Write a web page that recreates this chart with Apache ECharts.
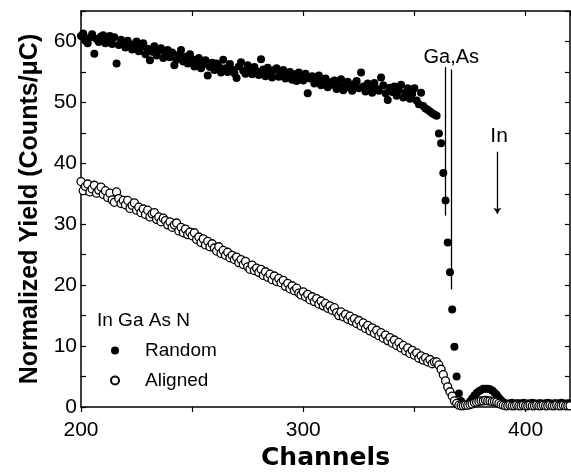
<!DOCTYPE html>
<html><head><meta charset="utf-8">
<script src="https://cdn.jsdelivr.net/npm/echarts@6/dist/echarts.min.js"></script>
<style>html,body{margin:0;padding:0;background:#fff}#c{width:571px;height:476px}</style>
</head><body><div id="c"></div>
<script>
// channel of the first value; each following value is the next channel
const startChannel = 200;

const randomYield = [
  60.9, 61.3, 60.1, 59.7, 60.6, 61.2, 58.0, 60.4, 59.9, 60.8,
  61.0, 59.7, 60.5, 60.9, 59.6, 60.7, 56.4, 59.4, 60.3, 59.8,
  59.0, 60.1, 59.6, 58.7, 59.3, 60.0, 58.4, 59.1, 59.7, 57.9,
  58.8, 56.9, 58.3, 59.2, 57.7, 58.5, 58.9, 57.3, 57.9, 58.6,
  57.4, 58.2, 56.1, 57.0, 57.8, 58.6, 56.7, 57.5, 56.4, 57.9,
  57.1, 55.9, 56.6, 57.3, 55.6, 56.2, 56.9, 54.4, 55.8, 56.5,
  55.3, 56.4, 55.9, 54.9, 57.0, 55.6, 55.0, 56.3, 55.4, 54.8,
  54.0, 55.9, 56.6, 55.2, 54.7, 56.1, 55.5, 54.6, 55.8, 55.1,
  54.5, 57.1, 55.4, 54.3, 55.7, 55.0, 54.1, 55.3, 55.6, 54.2,
  54.8, 55.3, 53.9, 54.4, 55.0, 53.7, 54.6, 53.5, 54.9, 54.1,
  53.6, 54.7, 51.5, 53.9, 54.3, 53.1, 53.7, 54.4, 52.8, 53.4,
  53.9, 52.5, 53.3, 52.9, 53.6, 52.2, 53.0, 53.8, 52.0, 52.7,
  53.4, 52.4, 51.9, 53.0, 53.5, 52.3, 54.9, 52.6, 51.8, 53.1,
  52.7, 51.6, 53.2, 52.2, 51.9, 54.1, 52.8, 51.5, 50.4, 52.4,
  51.7, 52.6, 51.1, 52.0, 52.9, 50.8, 51.6, 52.3, 50.6, 51.4,
  52.3, 50.3, 49.7, 51.6, 49.4, 49.0, 48.8, 48.5, 48.2, 48.0,
  47.8, 44.9, 43.3, 38.4, 33.9, 27.0, 22.1, 16.0, 9.9, 5.0,
  2.2, 1.0, 0.4, 0.3, 0.5, 0.9, 1.4, 1.9, 2.3, 2.6,
  2.8, 3.0, 3.0, 3.0, 2.9, 2.7, 2.4, 2.0, 1.5, 1.1,
  0.8, 0.6, 0.5, 0.6, 0.7, 0.5, 0.6, 0.6, 0.5, 0.7,
  0.6, 0.5, 0.6, 0.7, 0.6, 0.5, 0.6, 0.6, 0.5, 0.6,
  0.7, 0.6, 0.5, 0.6, 0.6, 0.5, 0.7, 0.6, 0.5, 0.6, 0.6
];

const alignedYield = [
  37.0, 35.5, 36.2, 36.6, 35.3, 35.8, 36.4, 35.1, 35.6, 36.1,
  34.9, 35.5, 34.4, 35.1, 34.0, 33.6, 35.3, 34.2, 33.4, 33.9,
  33.2, 33.9, 32.6, 33.1, 33.5, 32.3, 32.8, 31.9, 32.5, 31.6,
  32.3, 31.2, 31.7, 31.9, 30.8, 31.2, 30.4, 31.0, 30.6, 29.9,
  30.4, 29.5, 29.9, 30.2, 28.9, 29.5, 28.6, 29.2, 28.3, 28.7,
  28.1, 28.6, 27.5, 27.9, 27.0, 27.6, 26.6, 27.2, 26.3, 26.8,
  26.1, 25.6, 26.3, 25.2, 25.7, 24.9, 25.4, 24.5, 24.9, 24.2,
  24.6, 23.7, 24.2, 23.4, 23.9, 23.0, 22.6, 23.3, 22.4, 22.8,
  22.1, 22.6, 21.6, 22.2, 21.3, 21.8, 20.9, 21.5, 20.6, 21.1,
  20.4, 20.8, 19.8, 20.3, 19.4, 19.9, 19.1, 19.5, 18.7, 18.4,
  18.9, 18.1, 18.5, 17.6, 18.1, 17.3, 17.8, 16.9, 17.4, 16.6,
  17.0, 16.2, 16.6, 15.9, 16.3, 15.5, 15.0, 15.6, 14.8, 15.2,
  14.4, 14.9, 14.1, 14.5, 13.7, 14.2, 13.3, 13.8, 12.9, 13.4,
  12.5, 13.0, 12.1, 12.6, 11.7, 12.2, 11.3, 11.8, 10.9, 11.4,
  10.5, 11.0, 10.1, 10.6, 9.7, 10.1, 9.2, 9.7, 8.8, 9.3,
  8.5, 8.9, 8.0, 8.4, 7.7, 8.1, 7.4, 7.8, 7.1, 7.4,
  7.4, 6.9, 6.2, 5.3, 4.3, 3.3, 2.5, 1.8, 1.0, 0.6,
  0.3, 0.2, 0.2, 0.3, 0.3, 0.4, 0.5, 0.7, 0.8, 0.9,
  1.0, 1.0, 1.1, 1.0, 1.0, 0.9, 0.9, 0.8, 0.6, 0.4,
  0.3, 0.2, 0.2, 0.3, 0.2, 0.2, 0.3, 0.2, 0.2, 0.3,
  0.2, 0.2, 0.3, 0.2, 0.2, 0.3, 0.2, 0.2, 0.3, 0.2,
  0.2, 0.3, 0.2, 0.2, 0.3, 0.2, 0.2, 0.3, 0.2, 0.2, 0.2
];

const xTickLabels = [200, 300, 400];
const yTickLabels = [0, 10, 20, 30, 40, 50, 60];

// annotation lines: [channel, topYield, bottomYield]
const gaAsLines = [[364.0, 55.8, 31.4], [366.6, 55.4, 19.3]];
const inArrow = [387.3, 41.9, 31.7];
// annotation text anchors: [channel, yield]
const gaAsLabel = [366.6, 57.4];
const inLabel = [388.1, 44.5];

const FONT = 'Liberation Sans, Arial, sans-serif';
const toPairs = vals => vals.map((v, i) => [startChannel + i, v]);

const chart = echarts.init(document.getElementById('c'), null, {renderer: 'canvas'});

const axisLine = {show: true, onZero: false, lineStyle: {color: '#000', width: 1.5}};

chart.setOption({
  animation: false,
  backgroundColor: '#fff',
  grid: {left: 81, right: 1, top: 11, bottom: 65},
  legend: {
    orient: 'vertical', left: 105, top: 336,
    itemWidth: 50, itemHeight: 8, itemGap: 11,
    selectedMode: false,
    textStyle: {fontSize: 19, color: '#000', fontFamily: FONT},
    data: [{name: 'Random', icon: 'circle'}, {name: 'Aligned', icon: 'circle'}]
  },
  graphic: [{
    type: 'text', left: 97, top: 311,
    style: {text: 'In Ga As N', font: '19px ' + FONT, fill: '#000'}
  }],
  xAxis: [{
    type: 'value', position: 'bottom', min: 200, max: 420, interval: 50,
    axisLine: axisLine,
    axisTick: {inside: false, length: 5, lineStyle: {color: '#000', width: 1.2}},
    axisLabel: {
      color: '#000', fontSize: 21, fontFamily: FONT, margin: 13, showMaxLabel: false,
      formatter: v => xTickLabels.includes(v) ? String(v) : ''
    },
    splitLine: {show: false},
    name: 'Channels', nameLocation: 'middle', nameGap: 39,
    nameTextStyle: {fontSize: 25, fontWeight: 'bold', color: '#000', fontFamily: 'DejaVu Sans'}
  }, {
    type: 'value', position: 'top', min: 200, max: 420, interval: 50,
    axisLine: axisLine,
    axisTick: {inside: true, length: 5, lineStyle: {color: '#000', width: 1.2}},
    axisLabel: {show: false}, splitLine: {show: false}
  }],
  yAxis: [{
    type: 'value', position: 'left', min: 0, max: 65, interval: 5,
    axisLine: axisLine,
    axisTick: {inside: true, length: 5, lineStyle: {color: '#000', width: 1.2}},
    axisLabel: {
      color: '#000', fontSize: 21, fontFamily: FONT, margin: 4,
      formatter: v => yTickLabels.includes(v) ? String(v) : ''
    },
    splitLine: {show: false},
    name: 'Normalized Yield (Counts/\u03bcC)', nameLocation: 'middle', nameGap: 33, nameRotate: 90,
    nameTextStyle: {fontSize: 25, fontWeight: 'bold', color: '#000', fontFamily: FONT}
  }, {
    type: 'value', position: 'right', min: 0, max: 65, interval: 5,
    axisLine: axisLine,
    axisTick: {inside: true, length: 5, lineStyle: {color: '#000', width: 1.2}},
    axisLabel: {show: false}, splitLine: {show: false}
  }],
  series: [{
    name: 'Random', type: 'scatter', xAxisIndex: 0, yAxisIndex: 0,
    symbol: 'circle', symbolSize: 8, z: 2,
    itemStyle: {color: '#000', opacity: 1},
    data: toPairs(randomYield),
    markLine: {
      silent: true, symbol: ['none', 'none'], animation: false,
      label: {show: false},
      lineStyle: {color: '#000', width: 1.3, type: 'solid'},
      data: [
        ...gaAsLines.map(l => [{coord: [l[0], l[1]]}, {coord: [l[0], l[2]]}]),
        [{coord: [inArrow[0], inArrow[1]]}, {coord: [inArrow[0], inArrow[2]], symbol: 'arrow', symbolSize: 6}]
      ]
    },
    markPoint: {
      silent: true, symbol: 'circle', symbolSize: 1, animation: false,
      itemStyle: {color: 'rgba(0,0,0,0)'},
      label: {show: true, position: 'inside', color: '#000', fontFamily: FONT},
      data: [
        {name: 'Ga,As', coord: gaAsLabel, label: {formatter: 'Ga,As', fontSize: 20}},
        {name: 'In', coord: inLabel, label: {formatter: 'In', fontSize: 21}}
      ]
    }
  }, {
    name: 'Aligned', type: 'scatter', xAxisIndex: 0, yAxisIndex: 0,
    symbol: 'circle', symbolSize: 8, z: 3,
    itemStyle: {color: '#fff', borderColor: '#000', borderWidth: 1.3, opacity: 1},
    data: toPairs(alignedYield)
  }]
});
</script></body></html>
